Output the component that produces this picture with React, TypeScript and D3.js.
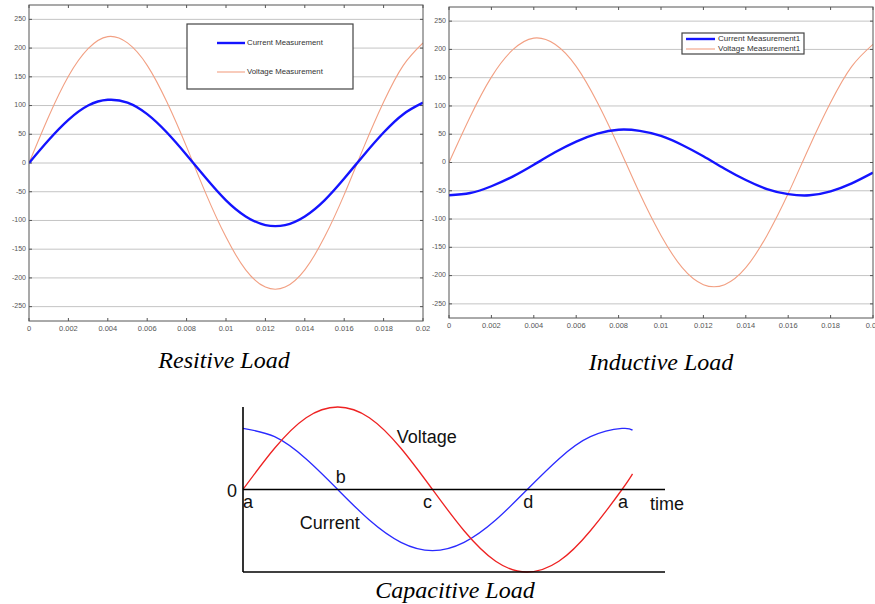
import { useEffect, useRef } from 'react';
import * as d3 from 'd3';

// time samples (s) for the two scope plots
const timeS = [0, 0.001, 0.002, 0.003, 0.004, 0.005, 0.006, 0.007, 0.008, 0.009, 0.01,
  0.011, 0.012, 0.013, 0.014, 0.015, 0.016, 0.017, 0.018, 0.019, 0.02];

const resistiveVoltage = [0, 81, 151, 199, 220, 209, 170, 106, 28, -55, -129,
  -186, -216, -216, -186, -129, -55, 28, 106, 170, 209];
const resistiveCurrent = [0, 40, 75, 100, 110, 105, 85, 53, 14, -27, -65,
  -93, -108, -108, -93, -65, -27, 14, 53, 85, 105];

const inductiveVoltage = [0, 81, 151, 199, 220, 209, 170, 106, 28, -55, -129,
  -186, -216, -216, -186, -129, -55, 28, 106, 170, 209];
const inductiveCurrent = [-58, -54, -42, -25, -4, 18, 37, 51, 58, 56, 47,
  31, 11, -11, -31, -47, -56, -58, -51, -37, -18];

const xTicks = [0, 0.002, 0.004, 0.006, 0.008, 0.01, 0.012, 0.014, 0.016, 0.018, 0.02];
const xTickLabels = ['0', '0.002', '0.004', '0.006', '0.008', '0.01', '0.012', '0.014', '0.016', '0.018', '0.02'];
const yTicks = [-250, -200, -150, -100, -50, 0, 50, 100, 150, 200, 250];

// capacitive sketch, phase in degrees
const phaseDeg = [0, 30, 60, 90, 120, 150, 180, 210, 240, 270, 300, 330, 360, 370];
const capVoltage = [0, 0.5, 0.87, 1, 0.87, 0.5, 0, -0.5, -0.87, -1, -0.87, -0.5, 0, 0.19];
const capCurrent = [0.74, 0.64, 0.37, 0, -0.37, -0.64, -0.74, -0.64, -0.37, 0, 0.37, 0.64, 0.74, 0.72];
const pointLabels = ['a', 'b', 'c', 'd', 'a'];
const pointPhase = [0, 90, 180, 270, 360];

const VOLT_COLOR = '#f2a083';
const CURR_COLOR = '#1414ff';
const SERIF = '"Times New Roman", "Liberation Serif", serif';
const SANS = 'Arial, "Liberation Sans", sans-serif';

interface ScopeOpts {
  id: string;
  left: number;
  right: number;
  top: number;
  bottom: number;
  voltage: number[];
  current: number[];
  legend: { x: number; y: number; w: number; h: number; gap: number; pad: number; fs: number; names: string[] };
  title: string;
  titleX: number;
  titleY: number;
}

function drawScope(svg: d3.Selection<SVGSVGElement, unknown, null, undefined>, o: ScopeOpts) {
  const x = d3.scaleLinear().domain([0, 0.02]).range([o.left, o.right]);
  const y = d3.scaleLinear().domain([-275, 275]).range([o.bottom, o.top]);
  const g = svg.append('g');

  g.append('rect')
    .attr('x', o.left).attr('y', o.top)
    .attr('width', o.right - o.left).attr('height', o.bottom - o.top)
    .attr('fill', '#fff');

  // horizontal grid
  g.selectAll('.grid')
    .data(yTicks)
    .enter()
    .append('line')
    .attr('x1', o.left).attr('x2', o.right)
    .attr('y1', d => y(d)).attr('y2', d => y(d))
    .attr('stroke', '#c4c4c4')
    .attr('stroke-width', 1);

  // ticks
  xTicks.forEach(t => {
    g.append('line').attr('x1', x(t)).attr('x2', x(t)).attr('y1', o.bottom).attr('y2', o.bottom - 3)
      .attr('stroke', '#555');
    g.append('line').attr('x1', x(t)).attr('x2', x(t)).attr('y1', o.top).attr('y2', o.top + 3)
      .attr('stroke', '#555');
  });
  yTicks.forEach(t => {
    g.append('line').attr('x1', o.left).attr('x2', o.left + 3).attr('y1', y(t)).attr('y2', y(t))
      .attr('stroke', '#555');
    g.append('line').attr('x1', o.right).attr('x2', o.right - 3).attr('y1', y(t)).attr('y2', y(t))
      .attr('stroke', '#555');
  });

  g.selectAll('.xt')
    .data(xTicks)
    .enter()
    .append('text')
    .attr('x', d => x(d))
    .attr('y', o.bottom + 10)
    .attr('text-anchor', 'middle')
    .attr('font-family', SANS)
    .attr('font-size', '7.5px')
    .attr('fill', '#555')
    .text((_, i) => xTickLabels[i]);

  g.selectAll('.yt')
    .data(yTicks)
    .enter()
    .append('text')
    .attr('x', o.left - 3)
    .attr('y', d => y(d))
    .attr('text-anchor', 'end')
    .attr('dominant-baseline', 'middle')
    .attr('font-family', SANS)
    .attr('font-size', '7px')
    .attr('fill', '#555')
    .text(d => String(d));

  const clipId = `clip-${o.id}`;
  svg.append('defs').append('clipPath').attr('id', clipId)
    .append('rect')
    .attr('x', o.left).attr('y', o.top)
    .attr('width', o.right - o.left).attr('height', o.bottom - o.top);

  const line = d3.line<number>()
    .x((_, i) => x(timeS[i]))
    .y(d => y(d))
    .curve(d3.curveNatural);

  g.append('path')
    .datum(o.voltage)
    .attr('clip-path', `url(#${clipId})`)
    .attr('fill', 'none')
    .attr('stroke', VOLT_COLOR)
    .attr('stroke-width', 1.1)
    .attr('d', line);

  g.append('path')
    .datum(o.current)
    .attr('clip-path', `url(#${clipId})`)
    .attr('fill', 'none')
    .attr('stroke', CURR_COLOR)
    .attr('stroke-width', 2.4)
    .attr('d', line);

  g.append('rect')
    .attr('x', o.left).attr('y', o.top)
    .attr('width', o.right - o.left).attr('height', o.bottom - o.top)
    .attr('fill', 'none')
    .attr('stroke', '#555')
    .attr('stroke-width', 1);

  // legend
  const lg = o.legend;
  const wide = lg.w > 140;
  g.append('rect')
    .attr('x', lg.x).attr('y', lg.y).attr('width', lg.w).attr('height', lg.h)
    .attr('fill', '#fff').attr('stroke', '#444').attr('stroke-width', 1.2);
  const colors = [CURR_COLOR, VOLT_COLOR];
  const widths = [2.4, 1.1];
  lg.names.forEach((name, i) => {
    const ly = lg.y + lg.pad + i * lg.gap;
    g.append('line')
      .attr('x1', lg.x + (wide ? 30 : 4)).attr('x2', lg.x + (wide ? 58 : 33))
      .attr('y1', ly).attr('y2', ly)
      .attr('stroke', colors[i]).attr('stroke-width', widths[i]);
    g.append('text')
      .attr('x', lg.x + (wide ? 60 : 36))
      .attr('y', ly)
      .attr('dominant-baseline', 'middle')
      .attr('font-family', SANS)
      .attr('font-size', `${lg.fs}px`)
      .attr('fill', '#333')
      .text(name);
  });

  svg.append('text')
    .attr('x', o.titleX)
    .attr('y', o.titleY)
    .attr('text-anchor', 'middle')
    .attr('font-family', SERIF)
    .attr('font-style', 'italic')
    .attr('font-size', '24px')
    .attr('fill', '#000')
    .text(o.title);
}

function drawCapacitive(svg: d3.Selection<SVGSVGElement, unknown, null, undefined>) {
  const left = 243;
  const axisEnd = 665;
  const x = d3.scaleLinear().domain([0, 360]).range([left, 622]);
  const y = d3.scaleLinear().domain([-1, 1]).range([572, 407]);
  const g = svg.append('g');

  const line = d3.line<number>()
    .x((_, i) => x(phaseDeg[i]))
    .y(d => y(d))
    .curve(d3.curveNatural);

  g.append('path').datum(capCurrent)
    .attr('fill', 'none').attr('stroke', '#2a2aff').attr('stroke-width', 1.3).attr('d', line);
  g.append('path').datum(capVoltage)
    .attr('fill', 'none').attr('stroke', '#ee2222').attr('stroke-width', 1.3).attr('d', line);

  // axes
  g.append('line').attr('x1', left).attr('x2', left).attr('y1', y(1)).attr('y2', y(-1))
    .attr('stroke', '#000').attr('stroke-width', 1.6);
  g.append('line').attr('x1', left).attr('x2', axisEnd).attr('y1', y(0)).attr('y2', y(0))
    .attr('stroke', '#000').attr('stroke-width', 1.6);
  g.append('line').attr('x1', left).attr('x2', axisEnd).attr('y1', y(-1)).attr('y2', y(-1))
    .attr('stroke', '#000').attr('stroke-width', 1.6);

  const txt = (tx: number, ty: number, s: string, anchor = 'start') =>
    g.append('text')
      .attr('x', tx).attr('y', ty)
      .attr('text-anchor', anchor)
      .attr('font-family', SANS)
      .attr('font-size', '18px')
      .attr('fill', '#111')
      .text(s);

  txt(left - 6, y(0) + 7, '0', 'end');
  txt(axisEnd - 15, y(0) + 20, 'time');
  pointLabels.forEach((lab, i) => {
    const px = x(pointPhase[i]) + (i === 0 ? 5 : i === 2 ? -5 : i === 1 ? 3 : 1);
    const py = i === 1 ? y(0) - 7 : y(0) + 18;
    txt(px, py, lab, 'middle');
  });
  txt(x(146), y(0.56), 'Voltage');
  txt(x(54), y(-0.48), 'Current');

  svg.append('text')
    .attr('x', 455)
    .attr('y', 598)
    .attr('text-anchor', 'middle')
    .attr('font-family', SERIF)
    .attr('font-style', 'italic')
    .attr('font-size', '24px')
    .attr('fill', '#000')
    .text('Capacitive Load');
}

export default function App() {
  const svgRef = useRef<SVGSVGElement>(null);

  useEffect(() => {
    if (!svgRef.current) return;
    const svg = d3.select(svgRef.current);
    svg.selectAll('*').remove();

    svg.append('rect').attr('width', 875).attr('height', 604).attr('fill', '#fff');

    drawScope(svg, {
      id: 'res', left: 29, right: 423, top: 5, bottom: 321,
      voltage: resistiveVoltage, current: resistiveCurrent,
      legend: { x: 187, y: 24, w: 166, h: 65, gap: 29, pad: 19, fs: 7.8, names: ['Current Measurement', 'Voltage Measurement'] },
      title: 'Resitive Load', titleX: 224, titleY: 368,
    });
    drawScope(svg, {
      id: 'ind', left: 449, right: 873, top: 7, bottom: 318,
      voltage: inductiveVoltage, current: inductiveCurrent,
      legend: { x: 682, y: 33, w: 122, h: 21, gap: 10, pad: 6, fs: 8, names: ['Current Measurement1', 'Voltage Measurement1'] },
      title: 'Inductive Load', titleX: 661, titleY: 370,
    });
    drawCapacitive(svg);
  }, []);

  return (
    <svg
      ref={svgRef}
      width={875}
      height={604}
      style={{ display: 'block', position: 'absolute', left: 0, top: 0 }}
    />
  );
}
